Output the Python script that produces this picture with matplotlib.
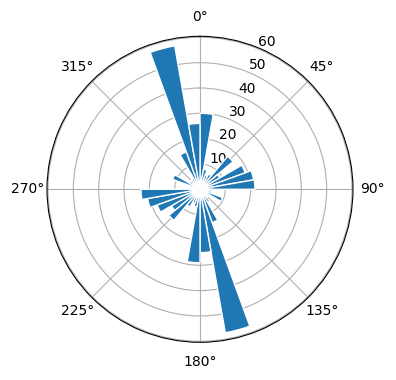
import numpy as np
import matplotlib
matplotlib.use("Agg")
import matplotlib.pyplot as plt

# direction bins (degrees, start of each 10 degree bin, clockwise from north)
bin_start_deg = list(range(0, 360, 10))
counts = [
    30, 8, 6, 7, 17, 9, 19, 21.5, 21.7,     # 0 - 80
    5, 5, 9.5, 4, 4, 6, 14, 57.5, 25,       # 90 - 170
    29, 7, 6, 8, 16, 13, 18, 21, 23.3,      # 180 - 260
    3, 4, 11.5, 5, 5, 5, 15.7, 57.5, 26,    # 270 - 350
]

theta = np.deg2rad(bin_start_deg)
width = np.deg2rad(10)

fig = plt.figure(figsize=(3.96, 3.8), dpi=100)
ax = fig.add_axes([0.1187, 0.0992, 0.7727, 0.8053], projection='polar')
ax.set_theta_zero_location('N')
ax.set_theta_direction(-1)
ax.set_axisbelow(True)

ax.bar(theta, counts, width=width, align='edge', color='tab:blue',
       edgecolor='white', linewidth=1)

# leave a little room above the top ring, like autoscaling does
ax.set_rlim(0, 60.4)
ax.set_rticks([10, 20, 30, 40, 50, 60])

fig.savefig('out.png', dpi=100)
